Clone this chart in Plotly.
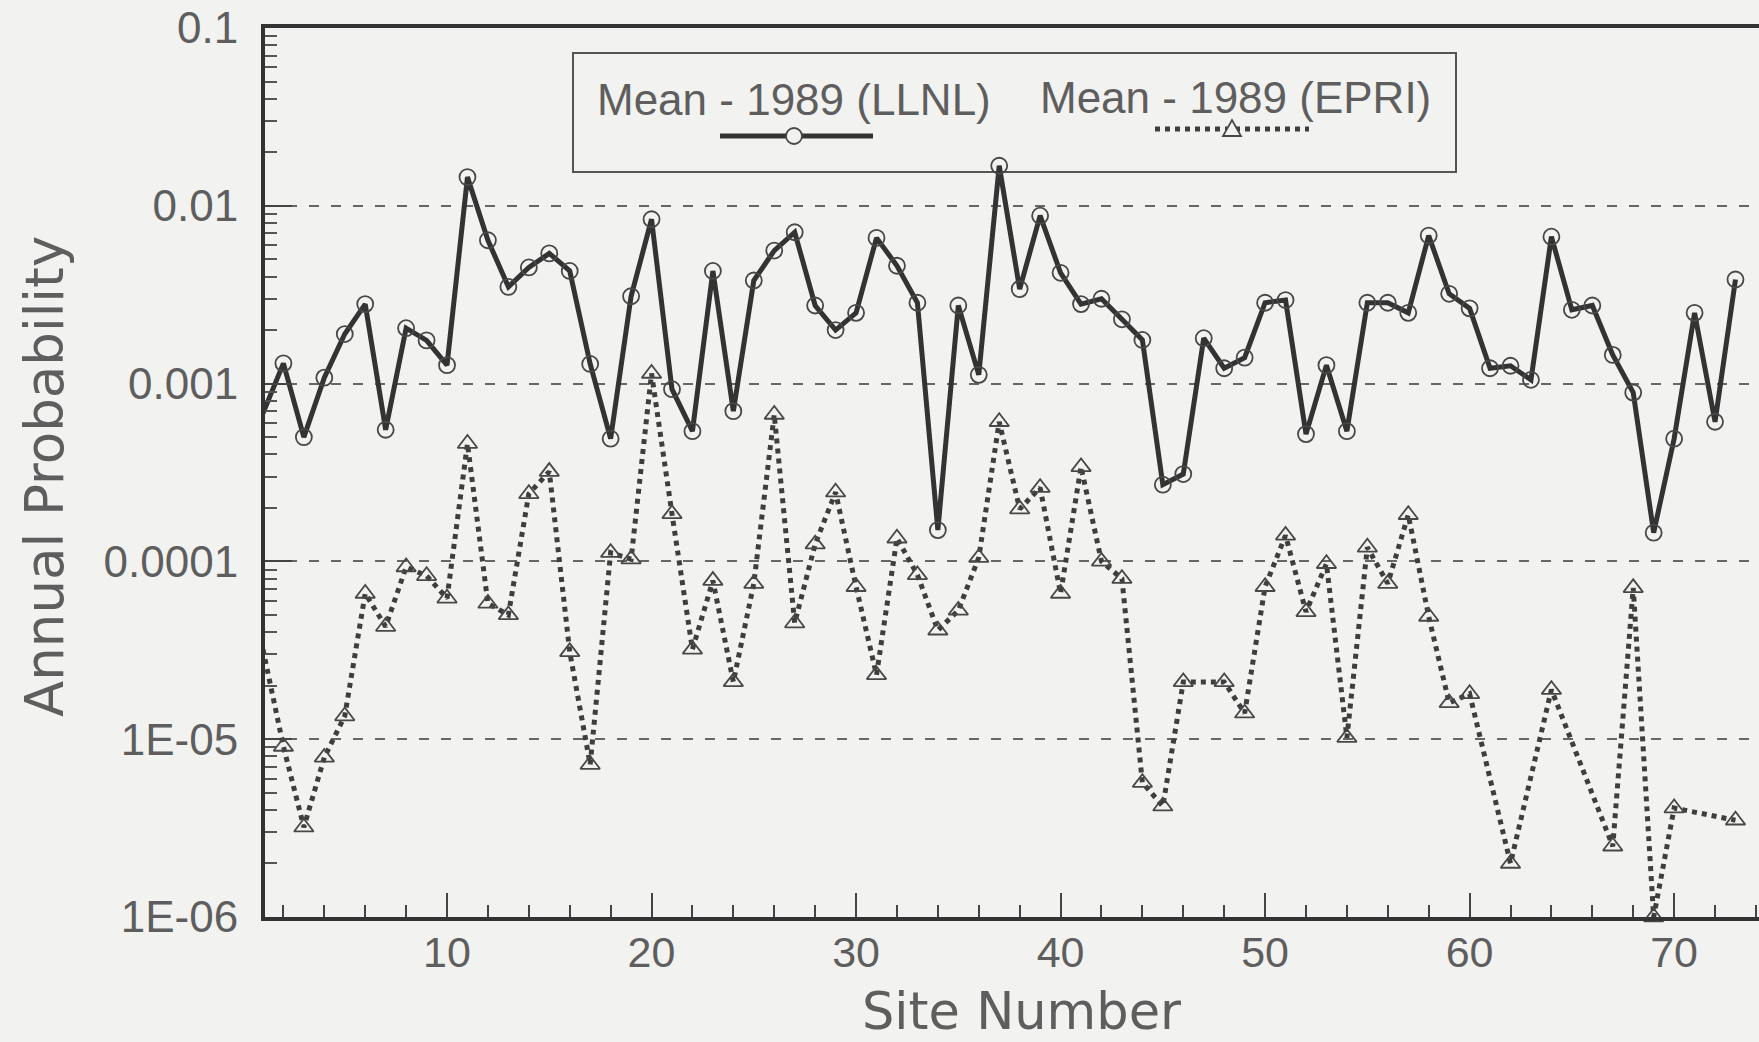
import plotly.graph_objects as go

# ---- data -------------------------------------------------------------
sites = list(range(1, 74))

llnl_mean = [
    6.8e-4, 1.3e-3, 5.0e-4, 1.08e-3, 1.9e-3, 2.8e-3, 5.5e-4, 2.05e-3, 1.75e-3, 1.27e-3,
    1.45e-2, 6.4e-3, 3.5e-3, 4.5e-3, 5.4e-3, 4.3e-3, 1.29e-3, 4.9e-4, 3.1e-3, 8.4e-3,
    9.3e-4, 5.4e-4, 4.3e-3, 7.0e-4, 3.8e-3, 5.6e-3, 7.1e-3, 2.75e-3, 2.0e-3, 2.5e-3,
    6.6e-3, 4.6e-3, 2.85e-3, 1.5e-4, 2.75e-3, 1.12e-3, 1.68e-2, 3.4e-3, 8.8e-3, 4.2e-3,
    2.8e-3, 3.0e-3, 2.3e-3, 1.76e-3, 2.7e-4, 3.1e-4, 1.8e-3, 1.22e-3, 1.4e-3, 2.85e-3,
    2.95e-3, 5.2e-4, 1.27e-3, 5.4e-4, 2.85e-3, 2.85e-3, 2.5e-3, 6.8e-3, 3.2e-3, 2.65e-3,
    1.22e-3, 1.26e-3, 1.05e-3, 6.7e-3, 2.6e-3, 2.75e-3, 1.45e-3, 8.9e-4, 1.45e-4, 4.9e-4,
    2.5e-3, 6.1e-4, 3.85e-3,
]

# None = no EPRI estimate for that site (line is carried across)
epri_mean = [
    3.2e-5, 9.1e-6, 3.2e-6, 7.9e-6, 1.35e-5, 6.6e-5, 4.3e-5, 9.3e-5, 8.3e-5, 6.2e-5,
    4.6e-4, 5.8e-5, 5.0e-5, 2.4e-4, 3.2e-4, 3.1e-5, 7.2e-6, 1.12e-4, 1.03e-4, 1.14e-3,
    1.85e-4, 3.2e-5, 7.8e-5, 2.1e-5, 7.5e-5, 6.7e-4, 4.5e-5, 1.25e-4, 2.45e-4, 7.2e-5,
    2.3e-5, 1.35e-4, 8.4e-5, 4.1e-5, 5.3e-5, 1.05e-4, 6.1e-4, 1.97e-4, 2.6e-4, 6.6e-5,
    3.4e-4, 1.0e-4, 8.0e-5, 5.7e-6, 4.2e-6, 2.1e-5, None, 2.1e-5, 1.4e-5, 7.2e-5,
    1.4e-4, 5.2e-5, 9.7e-5, 1.02e-5, 1.2e-4, 7.5e-5, 1.83e-4, 4.9e-5, 1.6e-5, 1.8e-5,
    None, 2.0e-6, None, 1.9e-5, None, None, 2.5e-6, 7.1e-5, 1.0e-6, 4.1e-6,
    None, None, 3.5e-6,
]

series_names = ["Mean - 1989 (LLNL)", "Mean - 1989 (EPRI)"]

y_tick_values = [1e-1, 1e-2, 1e-3, 1e-4, 1e-5, 1e-6]
y_tick_labels = ["0.1", "0.01", "0.001", "0.0001", "1E-05", "1E-06"]
x_tick_values = [10, 20, 30, 40, 50, 60, 70]
x_tick_labels = [str(v) for v in x_tick_values]

# ---- page geometry (pixels) ------------------------------------------
W, H = 1759, 1042
PLOT_L, PLOT_T, PLOT_R, PLOT_B = 265, 28, 1759, 917

INK = "#333333"
TEXT = "#5e5e5e"
PAPER = "#f2f2f0"
SANS = "Liberation Sans, Arial, Helvetica, sans-serif"
WIDE = "DejaVu Sans, Verdana, sans-serif"


def px(x):
    return (x - PLOT_L) / (PLOT_R - PLOT_L)


def py(y):
    return (PLOT_B - y) / (PLOT_B - PLOT_T)


fig = go.Figure()

fig.add_trace(go.Scatter(
    x=sites, y=llnl_mean, name=series_names[0], mode="lines+markers",
    line=dict(color=INK, width=5),
    marker=dict(symbol="circle-open", size=16, color="#484848", line=dict(width=1.8)),
    cliponaxis=False, showlegend=False,
))

fig.add_trace(go.Scatter(
    x=sites, y=epri_mean, name=series_names[1], mode="lines+markers",
    connectgaps=True,
    line=dict(color="#3e3e3e", width=5, dash="5px,5px"),
    marker=dict(symbol="triangle-up-open", size=17, color="#484848", line=dict(width=1.8)),
    cliponaxis=False, showlegend=False,
))

minor_y = [m * 10.0 ** e for e in range(-6, -1) for m in range(2, 10)]

fig.update_xaxes(
    range=[1.1, 74.15], showgrid=False, zeroline=False,
    showline=True, linecolor="#333333", linewidth=4, mirror=True,
    ticks="inside", ticklen=24, tickwidth=2, tickcolor="#444444",
    tickmode="array", tickvals=x_tick_values, ticktext=x_tick_labels,
    ticklabelstandoff=-6,
    tickfont=dict(family=SANS, size=43, color=TEXT),
    minor=dict(ticks="inside", ticklen=12, tickwidth=2, tickcolor="#444444",
               dtick=2, tick0=0, showgrid=False),
)

fig.update_yaxes(
    type="log", range=[-6, -1], zeroline=False,
    showline=True, linecolor="#333333", linewidth=4,
    ticks="inside", ticklen=27, tickwidth=2, tickcolor="#444444",
    tickmode="array", tickvals=y_tick_values, ticktext=y_tick_labels,
    ticklabelstandoff=14,
    tickfont=dict(family=SANS, size=44, color=TEXT),
    showgrid=True, gridcolor="#666666", gridwidth=1.6, griddash="10px,12px",
    minor=dict(ticks="inside", ticklen=12, tickwidth=2, tickcolor="#555555",
               tickvals=minor_y, showgrid=False),
)

# axis titles
fig.add_annotation(text="Site Number", x=px(1021), y=py(1012), xref="paper", yref="paper",
                   showarrow=False, xanchor="center", yanchor="middle",
                   font=dict(family=WIDE, size=51, color=TEXT))
fig.add_annotation(text="Annual Probability", x=px(45), y=py(477), xref="paper", yref="paper",
                   showarrow=False, xanchor="center", yanchor="middle", textangle=-90,
                   font=dict(family=WIDE, size=53, color=TEXT))

# legend box with sample lines below each label (kept beneath the data lines)
fig.add_shape(type="rect", xref="paper", yref="paper",
              x0=px(573), x1=px(1456), y0=py(172), y1=py(53),
              line=dict(color="#555555", width=2), fillcolor=PAPER, layer="below")
fig.add_annotation(text=series_names[0], x=px(595), y=py(99), xref="paper", yref="paper",
                   showarrow=False, xanchor="left", yanchor="middle",
                   font=dict(family=SANS, size=44, color=TEXT))
fig.add_annotation(text=series_names[1], x=px(1038), y=py(97), xref="paper", yref="paper",
                   showarrow=False, xanchor="left", yanchor="middle",
                   font=dict(family=SANS, size=44, color=TEXT))

fig.add_shape(type="line", xref="paper", yref="paper",
              x0=px(720), x1=px(873), y0=py(136), y1=py(136),
              line=dict(color=INK, width=5), layer="above")
fig.add_shape(type="circle", xref="paper", yref="paper",
              xsizemode="pixel", ysizemode="pixel", xanchor=px(794), yanchor=py(136),
              x0=-8, x1=8, y0=-8, y1=8,
              line=dict(color="#484848", width=1.8), fillcolor=PAPER, layer="above")

fig.add_shape(type="line", xref="paper", yref="paper",
              x0=px(1155), x1=px(1309), y0=py(129), y1=py(129),
              line=dict(color="#3e3e3e", width=5, dash="5px,5px"), layer="above")
fig.add_shape(type="path", xref="paper", yref="paper",
              xsizemode="pixel", ysizemode="pixel", xanchor=px(1232), yanchor=py(129),
              path="M -9 -7 L 9 -7 L 0 9 Z",
              line=dict(color="#484848", width=1.8), fillcolor=PAPER, layer="above")

fig.update_layout(
    width=W, height=H, autosize=False,
    margin=dict(l=PLOT_L, r=W - PLOT_R, t=PLOT_T, b=H - PLOT_B),
    paper_bgcolor=PAPER, plot_bgcolor=PAPER,
    showlegend=False,
)

fig.write_html("out.html")
